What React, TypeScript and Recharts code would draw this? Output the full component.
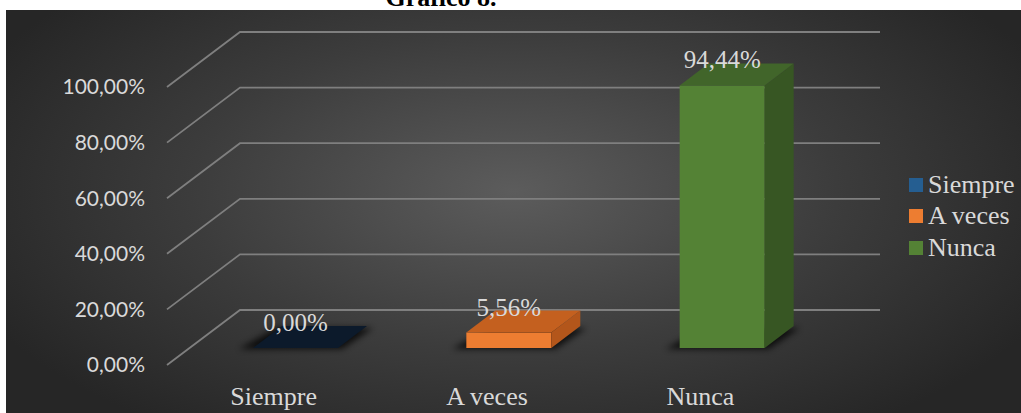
import { BarChart, Bar, XAxis, YAxis, CartesianGrid, LabelList, Legend } from 'recharts';

const categories = ['Siempre', 'A veces', 'Nunca'];
const values = [0, 0.0556, 0.9444];
const valueLabels = ['0,00%', '5,56%', '94,44%'];
const yTicks = [0, 0.2, 0.4, 0.6, 0.8, 1];
const yTickLabels = ['0,00%', '20,00%', '40,00%', '60,00%', '80,00%', '100,00%'];
const frontColors = ['#255E91', '#ED7D31', '#548235'];
const topColors = ['#0c1a2b', '#c4601f', '#41652a'];
const sideColors = ['#0c1a2b', '#b3561b', '#375623'];

const data = categories.map((name, i) => ({ name, value: values[i], label: valueLabels[i] }));

// fake 3d: back wall offset and bar offsets
const WALL_DX = 73;
const WALL_DY = 55;
const BAR_SX = 22;
const BAR_SY = 17;
const BAR_DX = 29;
const BAR_DY = 22;

const TEXT = '#d9d9d9';
const SERIF = '"Liberation Serif", "Times New Roman", serif';

const gridLine = (props: any) => {
  const { x1, y1, x2, index } = props;
  const pts = `${x1},${y1} ${x1 + WALL_DX},${y1 - WALL_DY} ${x2 + WALL_DX},${y1 - WALL_DY}`;
  return <polyline key={`g-${index}`} points={pts} fill="none" stroke="#7f7f7f" strokeWidth={1.8} />;
};

const Box3D = (props: any) => {
  const { x, y, width, height, index } = props;
  const x0 = x + BAR_SX;
  const x1 = x0 + width;
  const yt = y - BAR_SY;
  const yb = y + height - BAR_SY;
  const fid = `shadow-${index}`;
  const top = `${x0},${yt} ${x1},${yt} ${x1 + BAR_DX},${yt - BAR_DY} ${x0 + BAR_DX},${yt - BAR_DY}`;
  const side = `${x1},${yt} ${x1 + BAR_DX},${yt - BAR_DY} ${x1 + BAR_DX},${yb - BAR_DY} ${x1},${yb}`;
  const foot = `${x0 - 14},${yb + 1} ${x1 + 4},${yb + 1} ${x1 + BAR_DX + 6},${yb - BAR_DY + 2} ${x0 + BAR_DX - 6},${yb - BAR_DY + 2}`;
  return (
    <g>
      <defs>
        <filter id={fid} x="-50%" y="-50%" width="200%" height="200%">
          <feGaussianBlur stdDeviation="3" />
        </filter>
      </defs>
      <polygon points={foot} fill="#000" opacity={0.75} filter={`url(#${fid})`} />
      {height > 0 && <rect x={x0} y={yt} width={width} height={height} fill={frontColors[index]} />}
      {height > 0 && <polygon points={side} fill={sideColors[index]} />}
      <polygon points={top} fill={topColors[index]} />
    </g>
  );
};

const ValueLabel = (props: any) => {
  const vb = props.viewBox || {};
  const x = props.x ?? vb.x;
  const y = props.y ?? vb.y;
  const width = props.width ?? vb.width;
  return (
    <text
      x={x + BAR_SX + width / 2}
      y={y - BAR_SY - 17}
      textAnchor="middle"
      fill={TEXT}
      fontFamily={SERIF}
      fontSize={25}
    >
      {props.value}
    </text>
  );
};

const renderLegend = () => (
  <div style={{ fontFamily: SERIF, fontSize: 26, color: TEXT }}>
    {categories.map((c, i) => (
      <div key={c} style={{ display: 'flex', alignItems: 'center', height: 31.5 }}>
        <span style={{ width: 14, height: 14, background: frontColors[i], marginRight: 5, display: 'inline-block' }} />
        <span>{c}</span>
      </div>
    ))}
  </div>
);

export default function App() {
  return (
    <div style={{ position: 'absolute', left: 0, top: 0, width: 1021, height: 413, background: '#fff', overflow: 'hidden' }}>
      <div
        style={{
          position: 'absolute',
          left: 6,
          top: 10,
          width: 1015,
          height: 403,
          background: 'radial-gradient(ellipse 58% 72% at 50% 45%, #5c5c5c 0%, #3c3c3c 55%, #262626 100%)',
        }}
      />
      <svg width={1021} height={14} style={{ position: 'absolute', left: 0, top: 0 }}>
        <text x={441} y={6} textAnchor="middle" fontFamily={SERIF} fontWeight="bold" fontSize={26} fill="#000">
          Gráfico 8.
        </text>
      </svg>
      <div style={{ position: 'absolute', left: 0, top: 0 }}>
        <BarChart width={1021} height={413} data={data} margin={{ top: 87, right: 214, bottom: 0, left: 67 }}>
          <CartesianGrid horizontal={gridLine} vertical={false} />
          <XAxis
            dataKey="name"
            axisLine={false}
            tickLine={false}
            tickSize={0}
            tickMargin={22}
            tick={{ fill: TEXT, fontFamily: SERIF, fontSize: 26 }}
            height={48}
          />
          <YAxis
            type="number"
            domain={[0, 1]}
            ticks={yTicks}
            tickFormatter={(v: number) => yTickLabels[yTicks.indexOf(v)]}
            axisLine={false}
            tickLine={false}
            tickSize={0}
            tickMargin={22}
            width={100}
            tick={{ fill: TEXT, fontFamily: 'Lato, "Liberation Sans", sans-serif', fontSize: 21 }}
          />
          <Bar dataKey="value" barSize={85} shape={<Box3D />} isAnimationActive={false}>
            <LabelList dataKey="label" content={<ValueLabel />} />
          </Bar>
          <Legend
            layout="vertical"
            verticalAlign="middle"
            align="center"
            content={renderLegend}
            wrapperStyle={{ left: 909, top: 169, width: 112 }}
          />
        </BarChart>
      </div>
    </div>
  );
}
